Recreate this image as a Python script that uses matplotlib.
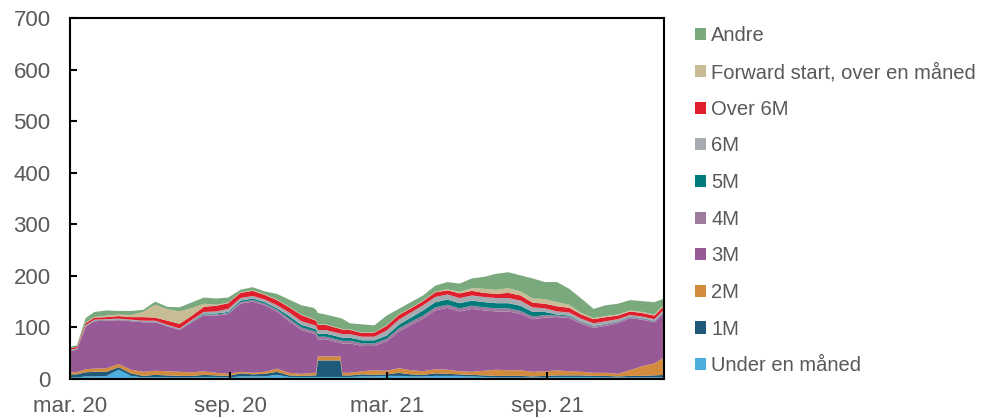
import numpy as np
import pandas as pd
import matplotlib
matplotlib.use('Agg')
import matplotlib.pyplot as plt
from matplotlib.patches import Patch

plt.rcParams['font.family'] = ['Liberation Sans', 'DejaVu Sans']

# Dates (roughly every two weeks, with extra points at sharp jumps)
dates = pd.to_datetime([
    '2020-03-01', '2020-03-09', '2020-03-19', '2020-03-29', '2020-04-12', '2020-04-26',
    '2020-05-10', '2020-05-24', '2020-06-07', '2020-06-21', '2020-07-05', '2020-07-19',
    '2020-08-02', '2020-08-16', '2020-08-30', '2020-09-13', '2020-09-27', '2020-10-11',
    '2020-10-25', '2020-11-08', '2020-11-22', '2020-12-06', '2020-12-09', '2020-12-11',
    '2020-12-20', '2021-01-06', '2021-01-08', '2021-01-17', '2021-01-31', '2021-02-14',
    '2021-02-28', '2021-03-14', '2021-03-28', '2021-04-11', '2021-04-25', '2021-05-09',
    '2021-05-23', '2021-06-06', '2021-06-20', '2021-07-04', '2021-07-18', '2021-08-01',
    '2021-08-15', '2021-08-29', '2021-09-12', '2021-09-26', '2021-10-10', '2021-10-24',
    '2021-11-07', '2021-11-21', '2021-12-05', '2021-12-19', '2022-01-02', '2022-01-13',
])

under_1m = [3, 3, 5, 5, 6, 18, 6, 3, 4, 3, 3, 3, 4, 4, 3, 5, 5, 5, 8, 4, 4, 4, 4, 4,
            4, 4, 4, 4, 5, 5, 6, 6, 5, 5, 6, 6, 6, 5, 4, 3, 3, 3, 3, 3, 4, 4, 4, 4,
            3, 3, 3, 3, 3, 3]
m1 = [6, 6, 8, 9, 8, 5, 5, 3, 4, 4, 3, 3, 4, 3, 3, 6, 4, 5, 6, 3, 2, 3, 3, 32,
      32, 32, 3, 3, 4, 3, 3, 6, 4, 3, 5, 4, 3, 3, 3, 3, 3, 3, 2, 3, 3, 3, 3, 2,
      3, 2, 3, 3, 4, 5]
m2 = [4, 4, 6, 6, 7, 6, 7, 8, 8, 8, 8, 7, 7, 5, 4, 3, 3, 4, 6, 5, 4, 5, 5, 8,
      8, 8, 5, 5, 6, 9, 7, 9, 8, 7, 8, 8, 6, 6, 9, 12, 11, 11, 9, 9, 10, 8, 7, 6,
      6, 5, 11, 19, 23, 34]
m3 = [41, 44, 82, 92, 92, 85, 94, 96, 94, 87, 81, 97, 108, 111, 116, 132, 138, 129,
      111, 100, 85, 76, 74, 33, 33, 26, 57, 57, 49, 47, 57, 71, 88, 102, 114, 120,
      116, 122, 117, 113, 114, 109, 102, 104, 103, 103, 93, 87, 91, 98, 101, 90, 80, 86]
m4 = [1, 1, 1.5, 1.5, 1.5, 1.5, 1.5, 1.5, 1.5, 1.5, 1.5, 1.5, 2, 2, 2, 3, 3, 3,
      3, 5, 5, 5, 5, 5, 5, 5, 5, 5, 5, 5, 5, 6, 6, 6, 6, 6, 6, 6, 6, 6, 6, 6,
      5, 5, 3, 3, 3, 3, 3, 3, 2, 2, 2, 2]
m5 = [0.5, 0.5, 0.5, 0.5, 0.5, 0.5, 0.5, 0.5, 0.5, 0.5, 0.5, 1, 2, 2, 2, 3, 3, 3,
      3, 5, 5, 5, 5, 6, 6, 6, 6, 6, 6, 6, 6, 7, 8, 10, 10, 10, 10, 10, 10, 10, 10, 10,
      9, 6, 2, 2, 1, 1, 1, 1, 1, 1, 1, 1]
m6 = [1, 1, 1, 1, 1, 1, 1, 1, 1, 1, 1, 2, 3, 4, 6, 5, 5, 5, 6, 7, 7, 7, 7, 7,
      7, 7, 7, 7, 7, 7, 10, 10, 10, 10, 10, 10, 10, 10, 10, 10, 10, 10, 9, 7,
      6, 6, 6, 5, 5, 4, 3, 3, 3, 3]
over_6m = [3, 3, 4, 4, 4, 5, 5, 7, 6, 8, 9, 8, 10, 11, 11, 10, 10, 9, 10, 10, 12, 10,
           10, 10, 10, 9, 9, 8, 7, 8, 9, 9, 8, 8, 9, 8, 9, 9, 8, 8, 10, 10, 9, 9,
           10, 9, 8, 8, 8, 7, 7, 7, 7, 8]
forward = [0, 0, 1, 1, 3, 3, 4, 10, 25, 22, 24, 15, 6, 2, 1, 1, 1, 1, 1, 1, 1, 1, 1, 1,
           1, 1, 1, 1, 1, 1, 1, 1, 1, 1, 1, 2, 3, 5, 8, 8, 9, 8, 8, 9, 8, 6, 3, 2,
           2, 2, 2, 2, 2, 2]
andre = [3, 3, 9, 10, 10, 7, 8, 4, 6, 5, 8, 11, 12, 12, 10, 5, 6, 6, 11, 14, 18, 22,
         20, 22, 19, 20, 20, 12, 16, 13, 19, 11, 11, 10, 12, 14, 16, 19, 23, 31, 31, 31,
         39, 33, 39, 31, 28, 18, 21, 21, 20, 21, 24, 12]

series = [under_1m, m1, m2, m3, m4, m5, m6, over_6m, forward, andre]
labels = ['Under en måned', '1M', '2M', '3M', '4M', '5M', '6M', 'Over 6M',
          'Forward start, over en måned', 'Andre']
colors = ['#4BAEDC', '#1F5A7A', '#D38C3D', '#985A96', '#9C7B9C', '#007B7B',
          '#A5ABB1', '#E01F2D', '#C8BC94', '#7BA97E']

fig = plt.figure(figsize=(9.86, 4.18), dpi=100)
ax = fig.add_axes([70 / 986, 1 - 379 / 418, 594 / 986, 361 / 418])

ax.stackplot(dates, *series, colors=colors, linewidth=0)

ax.set_ylim(0, 700)
ax.set_yticks(range(0, 701, 100))
ax.set_xlim(pd.Timestamp('2020-03-01'), pd.Timestamp('2022-01-13'))
ticks = pd.to_datetime(['2020-03-01', '2020-09-01', '2021-03-01', '2021-09-01'])
ax.set_xticks(ticks)
ax.set_xticklabels(['mar. 20', 'sep. 20', 'mar. 21', 'sep. 21'])

for s in ax.spines.values():
    s.set_linewidth(1.5)
    s.set_color('black')
ax.tick_params(axis='both', direction='in', length=5, width=1.5,
               labelsize=16, labelcolor='#595959')
ax.tick_params(axis='x', pad=12)
ax.tick_params(axis='y', pad=14)

# Legend, top entry first
handles = [Patch(facecolor=c, edgecolor='none') for c in colors]
fig.legend(handles[::-1], labels[::-1], loc='upper left', bbox_to_anchor=(0.697, 0.957),
           frameon=False, fontsize=14.5, labelcolor='#595959', handlelength=0.55,
           handleheight=0.55, handletextpad=0.25, labelspacing=0.875, borderaxespad=0)

fig.savefig('out.png', dpi=100)
